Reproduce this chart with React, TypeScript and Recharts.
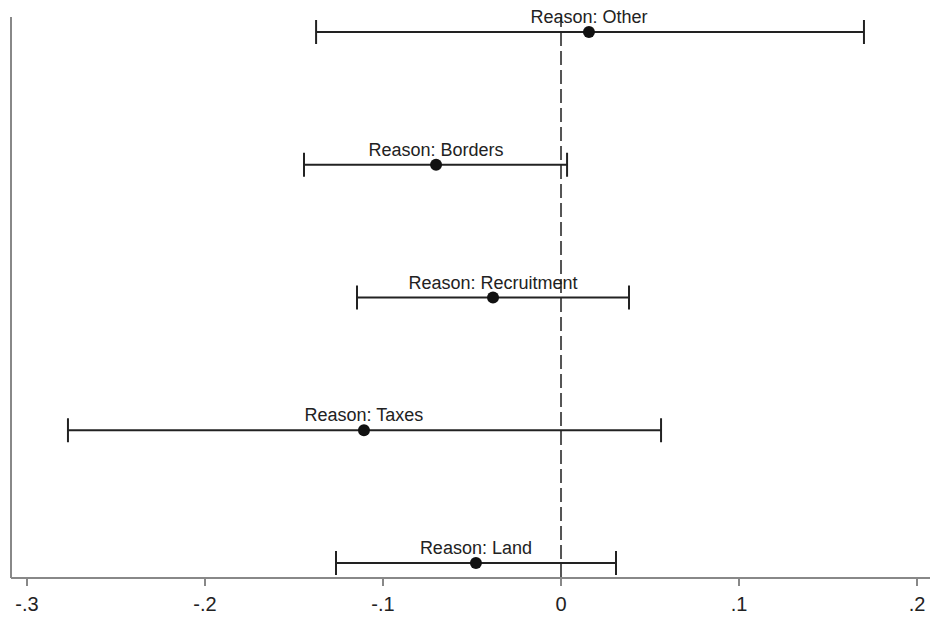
import React from "react";
import { ScatterChart, Scatter, XAxis, YAxis, ErrorBar, ReferenceLine } from "recharts";

const reasons = ["Other", "Borders", "Recruitment", "Taxes", "Land"];
const positions = [5, 4, 3, 2, 1];
const estimates = [0.0157, -0.0702, -0.0382, -0.1107, -0.0478];
const lowerCI = [-0.1376, -0.1444, -0.1146, -0.277, -0.1264];
const upperCI = [0.1702, 0.0034, 0.0382, 0.0562, 0.0309];
const xTicks = [-0.3, -0.2, -0.1, 0, 0.1, 0.2];
const xTickLabels = ["-.3", "-.2", "-.1", "0", ".1", ".2"];

const data = reasons.map((name, i) => ({
  name,
  y: positions[i],
  x: estimates[i],
  err: [estimates[i] - lowerCI[i], upperCI[i] - estimates[i]],
}));

const FONT = "'Liberation Sans', Arial, Helvetica, sans-serif";

const PointShape = (props: any) => {
  const { cx, cy, payload } = props;
  return (
    <g>
      <circle cx={cx} cy={cy} r={6} fill="#111" />
      <text
        x={cx}
        y={cy - 9}
        textAnchor="middle"
        fontSize={18}
        fontFamily={FONT}
        fill="#222"
      >
        {"Reason: " + payload.name}
      </text>
    </g>
  );
};

export default function App() {
  return (
    <div style={{ position: "absolute", left: 0, top: 0, background: "#fff" }}>
      <ScatterChart
        width={933}
        height={623}
        margin={{ top: 17, right: 3, bottom: 0, left: 10 }}
        style={{ overflow: "visible" }}
      >
        <XAxis
          type="number"
          dataKey="x"
          domain={[-0.309, 0.2073]}
          ticks={xTicks}
          tickFormatter={(v: number) => xTickLabels[xTicks.findIndex((t) => Math.abs(t - v) < 1e-9)] ?? String(v)}
          height={45}
          tickSize={8}
          tickMargin={11}
          axisLine={{ stroke: "#888", strokeWidth: 2 }}
          tickLine={{ stroke: "#888", strokeWidth: 2 }}
          tick={{ fontSize: 20, fill: "#222", fontFamily: FONT }}
        />
        <YAxis
          type="number"
          dataKey="y"
          domain={[0.887, 5.113]}
          width={1}
          tick={false}
          tickLine={false}
          axisLine={{ stroke: "#888", strokeWidth: 2 }}
        />
        <ReferenceLine x={0} stroke="#555" strokeWidth={2} strokeDasharray="14 5" />
        <Scatter data={data} shape={<PointShape />} isAnimationActive={false}>
          <ErrorBar
            dataKey="err"
            direction="x"
            width={12}
            stroke="#222"
            strokeWidth={2}
            isAnimationActive={false}
          />
        </Scatter>
      </ScatterChart>
    </div>
  );
}
